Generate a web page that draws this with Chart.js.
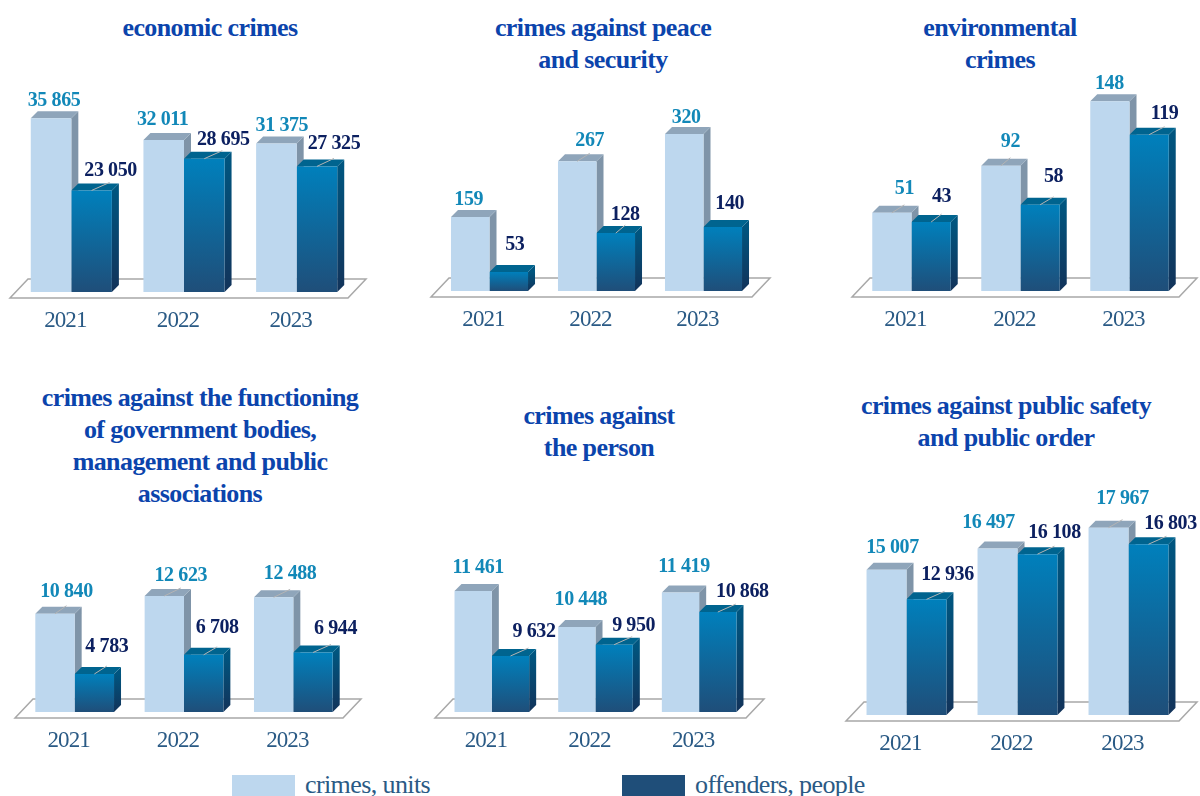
<!DOCTYPE html>
<html>
<head>
<meta charset="utf-8">
<title>Crimes and offenders by group, 2021-2023</title>
<script src="https://cdn.jsdelivr.net/npm/chart.js@4"></script>
<style>
  html, body { margin: 0; padding: 0; background: #fff; }
  #page { position: relative; width: 1200px; height: 796px; overflow: hidden; font-family: "Liberation Serif", serif; }
  #page canvas { position: absolute; }
  .title { position: absolute; transform: translateX(-50%); white-space: nowrap; text-align: center;
           font-weight: bold; font-size: 26px; letter-spacing: -0.6px; line-height: 32px; color: #0b44ac; }
  .swatch { position: absolute; top: 775px; width: 63px; height: 21px; }
  .legend-text { position: absolute; top: 771px; font-size: 26px; letter-spacing: -0.6px; line-height: 27px; color: #2a5a85; white-space: nowrap; }
</style>
</head>
<body>
<div id="page"></div>
<script>
const years = ['2021', '2022', '2023'];

const economicCrimes = [35865, 32011, 31375];
const economicOffenders = [23050, 28695, 27325];
const peaceCrimes = [159, 267, 320];
const peaceOffenders = [53, 128, 140];
const environmentCrimes = [51, 92, 148];
const environmentOffenders = [43, 58, 119];
const governmentCrimes = [10840, 12623, 12488];
const governmentOffenders = [4783, 6708, 6944];
const personCrimes = [11461, 10448, 11419];
const personOffenders = [9632, 9950, 10868];
const safetyCrimes = [15007, 16497, 17967];
const safetyOffenders = [12936, 16108, 16803];

const PLOT_HEIGHT = 200;
const PAD_TOP = 30;
const PAD_SIDE = 20;
const AXIS_HEIGHT = 50;
const DEPTH = 7;

// left/width = plot box, baseline = y of the bar feet, crimeDx.. = label offsets from each bar top
const panels = [
  { title: ['economic crimes'], titleX: 210, titleY: 12,
    crimes: economicCrimes, offenders: economicOffenders,
    left: 15, width: 338, baseline: 292, yMin: 5000, yMax: 40549,
    crimeDx: [3, -1, 5.5], crimeDy: [-18, -20, -18], offenderDx: [19, 19, 17], offenderDy: [-20, -19, -23] },
  { title: ['crimes against peace', 'and security'], titleX: 603, titleY: 12,
    crimes: peaceCrimes, offenders: peaceOffenders,
    left: 436, width: 321, baseline: 291, yMin: 16, yMax: 403,
    crimeDx: [-1.5, 12.5, 2], crimeDy: [-17, -20, -16], offenderDx: [6, 9.5, 7], offenderDy: [-27, -18, -23] },
  { title: ['environmental', 'crimes'], titleX: 1000, titleY: 12,
    crimes: environmentCrimes, offenders: environmentOffenders,
    left: 857, width: 327, baseline: 291, yMin: -17, yMax: 157,
    crimeDx: [12.5, 9.5, -0.5], crimeDy: [-24, -24, -18], offenderDx: [10.5, 13.5, 15.5], offenderDy: [-25, -28, -21] },
  { title: ['crimes against the functioning', 'of government bodies,', 'management and public', 'associations'], titleX: 200, titleY: 382,
    crimes: governmentCrimes, offenders: governmentOffenders,
    left: 20, width: 328, baseline: 712, yMin: 964, yMax: 21064,
    crimeDx: [11.5, 16.5, 16.5], crimeDy: [-22, -20, -24], offenderDx: [12.5, 13.5, 22.5], offenderDy: [-27, -27, -24] },
  { title: ['crimes against', 'the person'], titleX: 599, titleY: 400,
    crimes: personCrimes, offenders: personOffenders,
    left: 440, width: 311, baseline: 712, yMin: 8056, yMax: 13683,
    crimeDx: [5, 4, 3.5], crimeDy: [-23, -27, -26], offenderDx: [23.5, 19.5, 24.5], offenderDy: [-24, -19, -20] },
  { title: ['crimes against public safety', 'and public order'], titleX: 1006, titleY: 390,
    crimes: safetyCrimes, offenders: safetyOffenders,
    left: 851, width: 333, baseline: 715, yMin: 4820, yMax: 18855,
    crimeDx: [6, -9, 14], crimeDy: [-22, -26, -29], offenderDx: [21, 17, 22], offenderDy: [-25, -21, -20] }
];

const groupThousands = v => String(v).replace(/\B(?=(\d{3})+$)/g, ' ');

function fillQuad(ctx, pts, fill) {
  ctx.beginPath();
  ctx.moveTo(pts[0][0], pts[0][1]);
  for (let i = 1; i < pts.length; i++) ctx.lineTo(pts[i][0], pts[i][1]);
  ctx.closePath();
  ctx.fillStyle = fill;
  ctx.fill();
}

// tighter glyph spacing for the axis years
const tightText = {
  id: 'tightText',
  beforeDraw(chart) { chart.ctx.letterSpacing = '-0.9px'; }
};

// floor plate plus the side and top faces of every bar, under the library's front faces
const extrusion = {
  id: 'extrusion',
  beforeDatasetsDraw(chart) {
    const ctx = chart.ctx;
    const area = chart.chartArea;
    const foot = chart.scales.y.bottom;

    ctx.save();
    ctx.beginPath();
    ctx.moveTo(area.left - 5, foot + 6);
    ctx.lineTo(area.right - 5, foot + 6);
    ctx.lineTo(area.right + 13, foot - 13);
    ctx.lineTo(area.left + 13, foot - 13);
    ctx.closePath();
    ctx.fillStyle = '#fff';
    ctx.fill();
    ctx.strokeStyle = '#a8a8a8';
    ctx.lineWidth = 1.5;
    ctx.stroke();

    chart.data.datasets.forEach((ds, i) => {
      const dark = i === 1;
      chart.getDatasetMeta(i).data.forEach(bar => {
        const r = bar.x + bar.width / 2;
        const l = bar.x - bar.width / 2;
        let side = '#7f94a8';
        if (dark) {
          side = ctx.createLinearGradient(0, bar.y, 0, foot);
          side.addColorStop(0, '#00557f');
          side.addColorStop(1, '#12335a');
        }
        fillQuad(ctx, [[r, bar.y], [r + DEPTH, bar.y - DEPTH], [r + DEPTH, foot - DEPTH], [r, foot]], side);
        fillQuad(ctx, [[l, bar.y], [l + DEPTH, bar.y - DEPTH], [r + DEPTH, bar.y - DEPTH], [r, bar.y]],
          dark ? '#00648f' : '#8fa5ba');
      });
    });
    ctx.restore();
  }
};

// value labels and the thin leader lines from bar to label
const valueLabels = {
  id: 'valueLabels',
  afterDatasetsDraw(chart, args, opts) {
    const ctx = chart.ctx;
    ctx.save();
    ctx.font = 'bold 20px "Liberation Serif", serif';
    ctx.letterSpacing = '-0.4px';
    ctx.textAlign = 'center';
    ctx.textBaseline = 'middle';
    chart.data.datasets.forEach((ds, i) => {
      const dxs = i === 0 ? opts.crimeDx : opts.offenderDx;
      const dys = i === 0 ? opts.crimeDy : opts.offenderDy;
      chart.getDatasetMeta(i).data.forEach((bar, j) => {
        if (dxs[j] >= 9) {
          ctx.beginPath();
          ctx.moveTo(bar.x, bar.y);
          ctx.lineTo(bar.x + Math.min(dxs[j], 18), bar.y - 8);
          ctx.strokeStyle = '#b4b4b4';
          ctx.lineWidth = 1;
          ctx.stroke();
        }
        ctx.fillStyle = i === 0 ? '#1288b8' : '#0c2060';
        ctx.fillText(groupThousands(ds.data[j]), bar.x + dxs[j], bar.y + dys[j]);
      });
    });
    ctx.restore();
  }
};

function offenderFill(context) {
  const chart = context.chart;
  if (!chart.chartArea) return '#1f6f9f';
  const top = chart.scales.y.getPixelForValue(context.raw);
  const g = chart.ctx.createLinearGradient(0, top, 0, chart.scales.y.bottom);
  g.addColorStop(0, '#0080bc');
  g.addColorStop(1, '#1f4e79');
  return g;
}

const page = document.getElementById('page');

panels.forEach(p => {
  const heading = document.createElement('div');
  heading.className = 'title';
  heading.style.left = p.titleX + 'px';
  heading.style.top = p.titleY + 'px';
  heading.innerHTML = p.title.join('<br>');
  page.appendChild(heading);

  const canvas = document.createElement('canvas');
  const w = p.width + PAD_SIDE * 2;
  const h = PAD_TOP + PLOT_HEIGHT + AXIS_HEIGHT;
  canvas.width = w;
  canvas.height = h;
  canvas.style.width = w + 'px';
  canvas.style.height = h + 'px';
  canvas.style.left = (p.left - PAD_SIDE) + 'px';
  canvas.style.top = (p.baseline - PLOT_HEIGHT - PAD_TOP) + 'px';
  page.appendChild(canvas);

  new Chart(canvas.getContext('2d'), {
    type: 'bar',
    data: {
      labels: years,
      datasets: [
        { label: 'crimes, units', data: p.crimes, backgroundColor: '#bdd7ee', base: p.yMin },
        { label: 'offenders, people', data: p.offenders, backgroundColor: offenderFill, base: p.yMin }
      ]
    },
    options: {
      responsive: false,
      animation: false,
      layout: { padding: { left: PAD_SIDE, right: PAD_SIDE, top: PAD_TOP, bottom: 0 } },
      datasets: { bar: { categoryPercentage: 0.72, barPercentage: 1 } },
      scales: {
        x: {
          grid: { display: false },
          border: { display: false },
          afterFit(scale) { scale.height = AXIS_HEIGHT; },
          ticks: {
            padding: 7,
            labelOffset: -6,
            maxRotation: 0,
            color: '#2a5a85',
            font: { family: '"Liberation Serif", serif', size: 23 }
          }
        },
        y: { display: false, min: p.yMin, max: p.yMax }
      },
      plugins: {
        legend: { display: false },
        tooltip: { enabled: false },
        valueLabels: {
          crimeDx: p.crimeDx, crimeDy: p.crimeDy,
          offenderDx: p.offenderDx, offenderDy: p.offenderDy
        }
      }
    },
    plugins: [tightText, extrusion, valueLabels]
  });
});

// shared legend along the bottom edge
[['crimes, units', '#bdd7ee', 232, 305], ['offenders, people', '#1f4e79', 622, 695]].forEach(item => {
  const swatch = document.createElement('div');
  swatch.className = 'swatch';
  swatch.style.left = item[2] + 'px';
  swatch.style.background = item[1];
  page.appendChild(swatch);
  const text = document.createElement('div');
  text.className = 'legend-text';
  text.style.left = item[3] + 'px';
  text.textContent = item[0];
  page.appendChild(text);
});
</script>
</body>
</html>
